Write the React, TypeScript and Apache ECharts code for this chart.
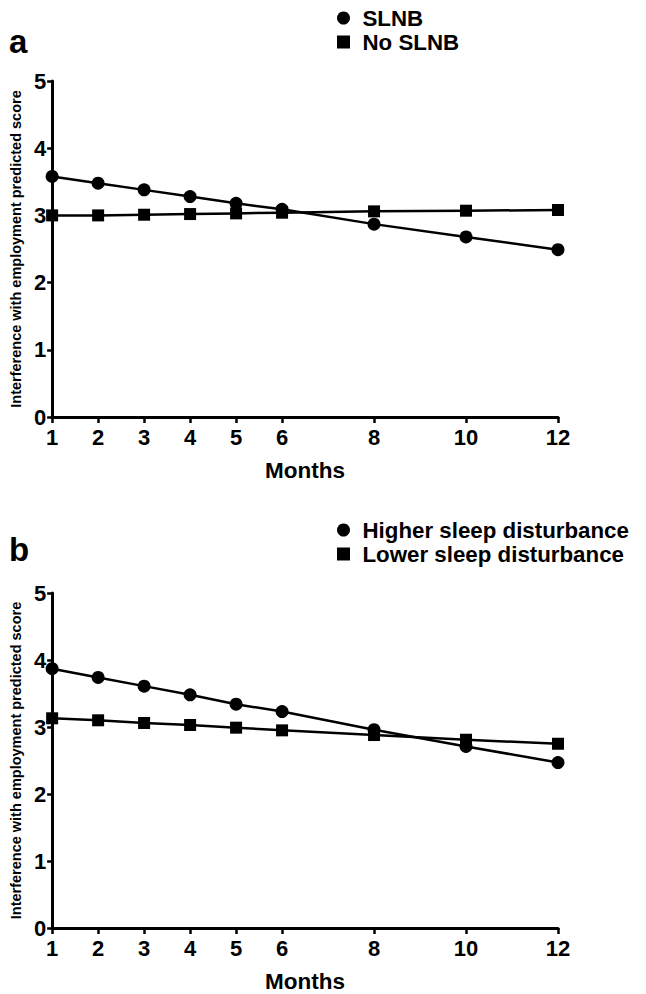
import React, { useEffect, useRef } from "react";
import * as echarts from "echarts";

const months = [1, 2, 3, 4, 5, 6, 8, 10, 12];
const tickMonths = [1, 2, 3, 4, 5, 6, 8, 10, 12];
const slnb = [3.58, 3.48, 3.38, 3.28, 3.18, 3.09, 2.87, 2.68, 2.49];
const noSlnb = [3.0, 3.0, 3.01, 3.02, 3.03, 3.04, 3.06, 3.07, 3.08];
const higherSleep = [3.87, 3.74, 3.61, 3.48, 3.34, 3.23, 2.96, 2.71, 2.47];
const lowerSleep = [3.13, 3.1, 3.06, 3.03, 2.99, 2.95, 2.88, 2.81, 2.75];
const yTitle = "Interference with employment predicted score";
const xTitle = "Months";

const SANS = "'Liberation Sans', Arial, sans-serif";
const SQUARE_ICON = "path://M0,0L10,0L10,10L0,10Z";

function pairs(xs: number[], ys: number[]) {
  return xs.map((x, i) => [x, ys[i]]);
}

export default function App() {
  const ref = useRef<HTMLDivElement>(null);
  useEffect(() => {
    if (!ref.current) return;
    const chart = echarts.init(ref.current, undefined, { renderer: "svg" });
    const xAxisBase = (gridIndex: number) => ({
      type: "value" as const,
      gridIndex,
      min: 1,
      max: 12,
      name: xTitle,
      nameLocation: "middle" as const,
      nameGap: 42,
      nameTextStyle: { fontFamily: SANS, fontWeight: "bold", fontSize: 22.5, color: "#000" },
      axisLine: { show: true, lineStyle: { color: "#000", width: 3 } },
      axisTick: { show: true, customValues: tickMonths, length: 6, lineStyle: { color: "#000", width: 2.5 } },
      axisLabel: {
        customValues: tickMonths,
        margin: 9,
        fontFamily: SANS,
        fontWeight: "bold",
        fontSize: 22,
        color: "#000",
      },
      splitLine: { show: false },
    });
    const yAxisBase = (gridIndex: number) => ({
      type: "value" as const,
      gridIndex,
      min: 0,
      max: 5,
      interval: 1,
      name: yTitle,
      nameLocation: "middle" as const,
      nameGap: 29,
      nameTextStyle: { fontFamily: SANS, fontWeight: "bold", fontSize: 14.5, color: "#000" },
      axisLine: { show: true, lineStyle: { color: "#000", width: 3 } },
      axisTick: { show: true, length: 5, lineStyle: { color: "#000", width: 2.5 } },
      axisLabel: { margin: 6, fontFamily: SANS, fontWeight: "bold", fontSize: 22, color: "#000" },
      splitLine: { show: false },
    });
    const circleSeries = (name: string, data: number[], idx: number) => ({
      type: "line" as const,
      name,
      xAxisIndex: idx,
      yAxisIndex: idx,
      data: pairs(months, data),
      symbol: "circle",
      symbolSize: 13,
      itemStyle: { color: "#000" },
      lineStyle: { color: "#000", width: 2.5 },
    });
    const squareSeries = (name: string, data: number[], idx: number) => ({
      type: "line" as const,
      name,
      xAxisIndex: idx,
      yAxisIndex: idx,
      data: pairs(months, data),
      symbol: "rect",
      symbolSize: 12,
      itemStyle: { color: "#000" },
      lineStyle: { color: "#000", width: 2.5 },
    });
    const legendText = { fontFamily: SANS, fontWeight: "bold", fontSize: 22.3, color: "#000" };
    const legendBase = {
      orient: "vertical" as const,
      left: 337,
      itemWidth: 28,
      itemHeight: 13,
      itemGap: 2,
      padding: 0,
      selectedMode: false,
      symbolKeepAspect: true,
      textStyle: legendText,
    };
    chart.setOption({
      animation: false,
      backgroundColor: "#fff",
      grid: [
        { left: 52, top: 81, width: 506, height: 336 },
        { left: 52, top: 593, width: 506, height: 335 },
      ],
      xAxis: [xAxisBase(0), xAxisBase(1)],
      yAxis: [yAxisBase(0), yAxisBase(1)],
      legend: [
        {
          ...legendBase,
          top: 7,
          data: [
            { name: "SLNB", icon: "circle" },
            { name: "No SLNB", icon: SQUARE_ICON },
          ],
        },
        {
          ...legendBase,
          top: 519,
          data: [
            { name: "Higher sleep disturbance", icon: "circle" },
            { name: "Lower sleep disturbance", icon: SQUARE_ICON },
          ],
        },
      ],
      graphic: [
        {
          type: "text",
          left: 9,
          top: 25,
          style: { text: "a", fontFamily: SANS, fontWeight: "bold", fontSize: 33, fill: "#000" },
        },
        {
          type: "text",
          left: 9,
          top: 533,
          style: { text: "b", fontFamily: SANS, fontWeight: "bold", fontSize: 33, fill: "#000" },
        },
      ],
      series: [
        circleSeries("SLNB", slnb, 0),
        squareSeries("No SLNB", noSlnb, 0),
        circleSeries("Higher sleep disturbance", higherSleep, 1),
        squareSeries("Lower sleep disturbance", lowerSleep, 1),
      ],
    });
    return () => chart.dispose();
  }, []);
  return (
    <div
      ref={ref}
      style={{ position: "absolute", left: 0, top: 0, width: 646, height: 994, background: "#fff" }}
    />
  );
}
